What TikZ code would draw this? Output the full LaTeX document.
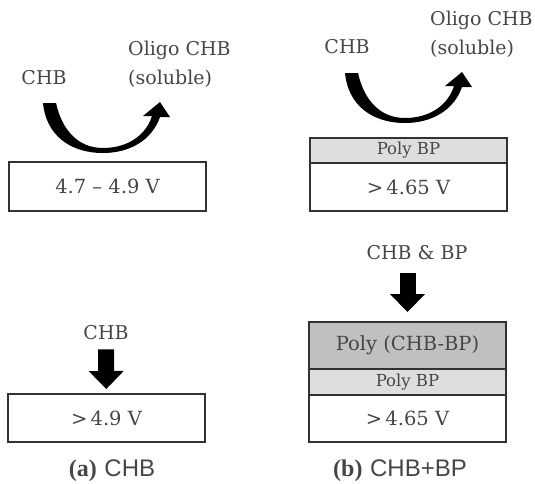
\documentclass[tikz,border=0pt]{standalone}
\usepackage{fontspec}
\setmainfont{DejaVu Serif}
\newfontfamily\capserif{Liberation Serif}
\newfontfamily\capsans{Liberation Sans}
\usetikzlibrary{arrows.meta,positioning}
\definecolor{txtgray}{RGB}{70,70,70}
\definecolor{edgegray}{RGB}{50,50,50}
\definecolor{polydark}{RGB}{192,192,192}
\definecolor{polylight}{RGB}{222,222,222}

\begin{document}
\begin{tikzpicture}[x=1pt, y=-1pt,
  lbl/.style={text=txtgray, font=\fontsize{19}{29}\selectfont, inner sep=0pt},
  box/.style={draw=edgegray, line width=1.8pt, rectangle, minimum width=197pt, inner sep=0pt, outer sep=0pt, text=txtgray, font=\fontsize{19.5}{22}\selectfont},
  thin/.style={font=\fontsize{16.5}{18}\selectfont},
  downarr/.style={line width=16pt, -{Triangle[width=34pt, length=18pt]}},
  curvarr/.style={fill=black},
  captxt/.style={text=txtgray, font=\fontsize{24}{26}\selectfont, inner sep=0pt}
]
\useasboundingbox (0,0) rectangle (535,483);

% (a) CHB
\node[lbl] (chb1) at (44,78) {CHB};
\node[lbl, anchor=north west, align=left] (olig1) at (128,41) {Oligo CHB\\(soluble)};
\node[box, minimum height=49pt] (v1) at (107.5,186.5) {4.7 -- 4.9 V};
\fill[curvarr] (43,103) .. controls (46,135) and (70,153) .. (103,153)
  .. controls (130,153) and (152,140) .. (160,117) -- (170,117) -- (160,102) -- (143,116) -- (152,116)
  .. controls (146,135) and (128,148) .. (103,148)
  .. controls (78,148) and (62,130) .. (56,103) -- cycle;

\node[lbl] (chb2) at (106,333) {CHB};
\node[box, minimum height=48pt] (v2) at (106.5,418) {>\,4.9 V};
\draw[downarr, shorten <=9pt, shorten >=5pt] (chb2) -- (v2);
\node[captxt] (capa) at (112,471) {{\capserif\bfseries (a)} {\capsans CHB}};

% (b) CHB+BP
\node[lbl] (chb3) at (347,47) {CHB};
\node[lbl, anchor=north west, align=left] (olig2) at (430,11) {Oligo CHB\\(soluble)};
\node[box, thin, fill=polylight, minimum height=25pt] (pbp1) at (408.5,150.5) {Poly BP};
\node[box, minimum height=48pt, below=0pt of pbp1] (v3) {>\,4.65 V};
\fill[curvarr, shift={(302,-30)}] (43,103) .. controls (46,135) and (70,153) .. (103,153)
  .. controls (130,153) and (152,140) .. (160,117) -- (170,117) -- (160,102) -- (143,116) -- (152,116)
  .. controls (146,135) and (128,148) .. (103,148)
  .. controls (78,148) and (62,130) .. (56,103) -- cycle;

\node[lbl] (chbbp) at (417,253) {CHB \& BP};
\node[box, fill=polydark, minimum height=47pt] (pcb) at (407.5,345.5) {Poly (CHB-BP)};
\node[box, thin, fill=polylight, minimum height=26pt, below=0pt of pcb] (pbp2) {Poly BP};
\node[box, minimum height=47pt, below=0pt of pbp2] (v4) {>\,4.65 V};
\draw[downarr, shorten <=13pt, shorten >=10pt] (chbbp.south -| pcb.north) -- (pcb.north);
\node[captxt] (capb) at (400,471) {{\capserif\bfseries (b)} {\capsans CHB+BP}};
\end{tikzpicture}
\end{document}
